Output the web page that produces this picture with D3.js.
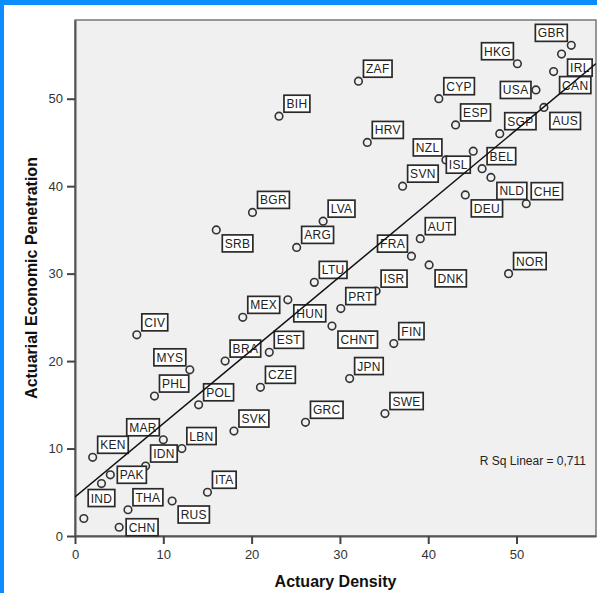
<!DOCTYPE html>
<html>
<head>
<meta charset="utf-8">
<script src="https://cdn.jsdelivr.net/npm/d3@7"></script>
<style>
  html, body { margin: 0; padding: 0; background: #ffffff; }
  svg { display: block; font-family: "Liberation Sans", Arial, sans-serif; }
</style>
</head>
<body>
<div class="scatter"></div>
<script>
// Actuary density vs actuarial economic penetration (scatter with fit line)

// Country codes (empty = unlabeled point)
var countries = ["GBR", "IRL", "CAN", "HKG", "USA", "ZAF", "CYP", "AUS", "BIH", "ESP",
  "SGP", "HRV", "ISL", "NZL", "BEL", "NLD", "SVN", "DEU", "CHE", "BGR",
  "LVA", "SRB", "AUT", "ARG", "FRA", "DNK", "NOR", "LTU", "ISR", "HUN",
  "PRT", "MEX", "CHNT", "CIV", "FIN", "EST", "BRA", "MYS", "JPN", "CZE",
  "PHL", "POL", "SWE", "GRC", "SVK", "MAR", "LBN", "KEN", "IDN", "PAK",
  "IND", "ITA", "RUS", "THA", "", "CHN"];

// Actuary Density (x)
var density = [56.2, 55.1, 54.2, 50.1, 52.2, 32.1, 41.2, 53.1, 23.1, 43.1,
  48.1, 33.1, 45.1, 42.0, 46.1, 47.1, 37.1, 44.2, 51.1, 20.1,
  28.1, 16.0, 39.1, 25.1, 38.1, 40.1, 49.1, 27.1, 34.1, 24.1,
  30.1, 19.0, 29.1, 7.0, 36.1, 22.0, 17.0, 13.0, 31.1, 21.0,
  9.0, 14.0, 35.1, 26.1, 18.0, 10.0, 12.1, 2.0, 8.0, 4.0,
  3.0, 15.0, 11.0, 6.0, 1.0, 5.0];

// Actuarial Economic Penetration (y)
var penetration = [56.1, 55.1, 53.1, 54.0, 51.0, 52.0, 50.0, 49.0, 48.0, 47.0,
  46.0, 45.0, 44.0, 43.0, 42.0, 41.0, 40.0, 39.0, 38.0, 37.0,
  36.0, 35.0, 34.0, 33.0, 32.0, 31.0, 30.0, 29.0, 28.0, 27.0,
  26.0, 25.0, 24.0, 23.0, 22.0, 21.0, 20.0, 19.0, 18.0, 17.0,
  16.0, 15.0, 14.0, 13.0, 12.0, 11.0, 10.0, 9.0, 8.0, 7.0,
  6.0, 5.0, 4.0, 3.0, 2.0, 1.0];

// Tick values
var xTicks = [0, 10, 20, 30, 40, 50];
var yTicks = [0, 10, 20, 30, 40, 50];

// Linear fit line as shown on the chart
var fitIntercept = 4.46;
var fitSlope = 0.84;
var rSquaredText = "R Sq Linear = 0,711";

// Label side for each country (default is up-right)
var labelSide = {
  GBR: "nw", IRL: "se", CAN: "se", HKG: "nw", USA: "w", AUS: "se",
  ISL: "sw", NZL: "nw", NLD: "se", DEU: "se", SRB: "se", FRA: "nw",
  DNK: "se", HUN: "se", CHNT: "se", MYS: "nw", MAR: "nw", PAK: "e",
  IND: "s", RUS: "se", CHN: "e"
};

// SVG Dimensions
var svgWidth = 597;
var svgHeight = 593;

var plot = { left: 75, top: 20, right: 596, bottom: 536 };

var svg = d3.select(".scatter")
  .append("svg")
  .attr("width", svgWidth)
  .attr("height", svgHeight);

// Blue window frame
svg.append("rect").attr("x", 0).attr("y", 0).attr("width", svgWidth).attr("height", 5).attr("fill", "#0b8cff");
svg.append("rect").attr("x", 0).attr("y", 0).attr("width", 4).attr("height", svgHeight).attr("fill", "#0b8cff");

// Scales
var xScale = d3.scaleLinear().domain([0, 59]).range([plot.left, plot.right]);
var yScale = d3.scaleLinear().domain([0, 59]).range([plot.bottom, plot.top]);

// Plot background
svg.append("rect")
  .attr("x", plot.left)
  .attr("y", plot.top)
  .attr("width", plot.right - plot.left)
  .attr("height", plot.bottom - plot.top)
  .attr("fill", "#f0f0f0")
  .attr("stroke", "#777")
  .attr("stroke-width", 1.5);

svg.append("clipPath").attr("id", "plotClip")
  .append("rect")
  .attr("x", plot.left)
  .attr("y", plot.top)
  .attr("width", plot.right - plot.left)
  .attr("height", plot.bottom - plot.top);

// Axes
var xAxis = d3.axisBottom(xScale).tickValues(xTicks).tickSizeInner(8).tickSizeOuter(0).tickPadding(6).tickFormat(d3.format("d"));
var yAxis = d3.axisLeft(yScale).tickValues(yTicks).tickSizeInner(8).tickSizeOuter(0).tickPadding(4).tickFormat(d3.format("d"));

var xg = svg.append("g")
  .attr("transform", `translate(0, ${plot.bottom})`)
  .call(xAxis);
var yg = svg.append("g")
  .attr("transform", `translate(${plot.left}, 0)`)
  .call(yAxis);

[xg, yg].forEach(function(g) {
  g.select(".domain").attr("stroke", "#555").attr("stroke-width", 2);
  g.selectAll(".tick line").attr("stroke", "#444").attr("stroke-width", 2);
  g.selectAll(".tick text")
    .attr("fill", "#333")
    .style("font-size", "13px")
    .style("font-family", "'Liberation Sans', Arial, sans-serif");
});

// Axis titles
svg.append("text")
  .attr("x", (plot.left + plot.right) / 2)
  .attr("y", 587)
  .attr("text-anchor", "middle")
  .style("font-size", "16px")
  .style("font-weight", "bold")
  .attr("fill", "#111")
  .text("Actuary Density");

svg.append("text")
  .attr("transform", `translate(37, ${(plot.top + plot.bottom) / 2}) rotate(-90)`)
  .attr("text-anchor", "middle")
  .style("font-size", "16px")
  .style("font-weight", "bold")
  .attr("fill", "#111")
  .text("Actuarial Economic Penetration");

var points = countries.map(function(c, i) {
  return { code: c, x: density[i], y: penetration[i] };
});

// Circles
svg.append("g").selectAll("circle")
  .data(points)
  .enter()
  .append("circle")
  .attr("cx", d => xScale(d.x))
  .attr("cy", d => yScale(d.y))
  .attr("r", 3.8)
  .attr("fill", "none")
  .attr("stroke", "#333")
  .attr("stroke-width", 1.6);

// Labels
var labelGroup = svg.append("g");
var boxH = 17;
points.filter(d => d.code !== "").forEach(function(d) {
  var cx = xScale(d.x), cy = yScale(d.y);
  var g = labelGroup.append("g");
  var rect = g.append("rect");
  var txt = g.append("text")
    .style("font-size", "12px")
    .style("letter-spacing", "0.3px")
    .attr("fill", "#222")
    .text(d.code);
  var w = txt.node().getComputedTextLength() + 5;
  var side = labelSide[d.code] || "ne";
  var bx, by;
  if (side === "ne") { bx = cx + 5; by = cy - 4 - boxH; }
  else if (side === "nw") { bx = cx - 4 - w; by = cy - 4 - boxH; }
  else if (side === "se") { bx = cx + 6; by = cy + 5; }
  else if (side === "sw") { bx = cx - 3 - w; by = cy + 5; }
  else if (side === "e") { bx = cx + 7; by = cy - boxH / 2; }
  else if (side === "w") { bx = cx - 5 - w; by = cy - boxH / 2; }
  else { bx = cx - w / 2; by = cy + 6; }
  rect.attr("x", bx).attr("y", by)
    .attr("width", w).attr("height", boxH)
    .attr("fill", "#fff")
    .attr("stroke", "#2a2a2a")
    .attr("stroke-width", 1.7);
  txt.attr("x", bx + 2.5).attr("y", by + 13);
});

// Fit line
svg.append("line")
  .attr("clip-path", "url(#plotClip)")
  .attr("x1", xScale(0))
  .attr("y1", yScale(fitIntercept))
  .attr("x2", xScale(59))
  .attr("y2", yScale(fitIntercept + fitSlope * 59))
  .attr("stroke", "#111")
  .attr("stroke-width", 1.5);

// R squared note
svg.append("text")
  .attr("x", 586)
  .attr("y", 465)
  .attr("text-anchor", "end")
  .style("font-size", "12px")
  .attr("fill", "#222")
  .text(rSquaredText);
</script>
</body>
</html>
